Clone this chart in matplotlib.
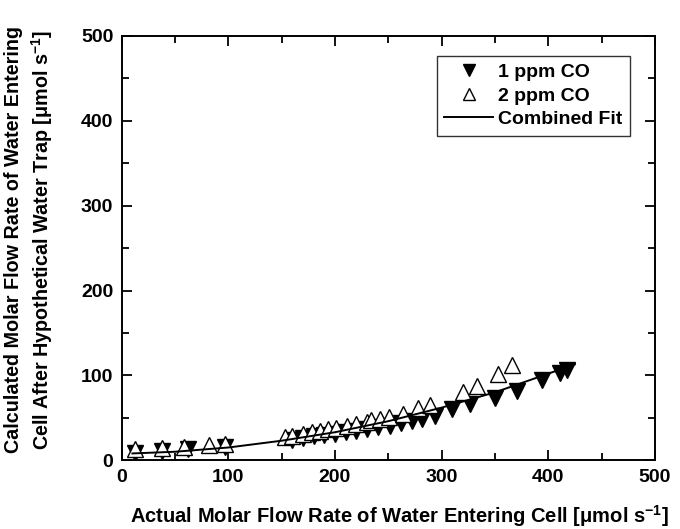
import matplotlib
matplotlib.use("Agg")
import matplotlib.pyplot as plt

plt.rcParams['font.family'] = ['Liberation Sans', 'DejaVu Sans']
plt.rcParams['font.weight'] = 'bold'
plt.rcParams['mathtext.fontset'] = 'custom'
plt.rcParams['mathtext.rm'] = 'Liberation Sans:bold'
plt.rcParams['mathtext.bf'] = 'Liberation Sans:bold'
plt.rcParams['mathtext.it'] = 'Liberation Sans:bold'

# 1 ppm CO (filled, down triangles)
x_1ppm = [12, 38, 62, 97, 160, 170, 180, 190, 200, 210, 220, 230, 240, 252,
          262, 272, 282, 294, 310, 327, 350, 371, 394, 411, 418]
y_1ppm = [9, 11, 13, 16, 24, 26, 28, 30, 31, 33, 35, 37, 39, 40,
          44, 46, 49, 52, 60, 66, 73, 82, 94, 103, 106]

# 2 ppm CO (open, up triangles)
x_2ppm = [12, 38, 58, 82, 97, 153, 160, 170, 178, 186, 193, 201, 211, 220,
          230, 234, 242, 251, 264, 278, 289, 320, 333, 353, 366]
y_2ppm = [13, 14, 16, 18, 19, 27, 29, 31, 33, 35, 37, 38, 40, 43,
          45, 47, 49, 51, 55, 61, 65, 80, 88, 102, 112]

# combined fit
x_fit = [10, 50, 100, 150, 200, 250, 300, 350, 400, 425]
y_fit = [8, 10, 15, 23, 33, 46, 62, 80, 102, 113]

fig = plt.figure(figsize=(6.8, 5.29), dpi=100)
ax = fig.add_axes([0.179, 0.130, 0.784, 0.802])

ax.plot(x_1ppm, y_1ppm, linestyle='none', marker='v', markersize=11,
        color='black', label='1 ppm CO')
ax.plot(x_2ppm, y_2ppm, linestyle='none', marker='^', markersize=11,
        markerfacecolor='white', markeredgecolor='black', markeredgewidth=1.0,
        label='2 ppm CO')
ax.plot(x_fit, y_fit, color='black', linewidth=1.4, label='Combined Fit')

ax.set_xlim(0, 500)
ax.set_ylim(0, 500)
ax.set_xticks([0, 100, 200, 300, 400, 500])
ax.set_yticks([0, 100, 200, 300, 400, 500])
ax.set_xticks([50, 150, 250, 350, 450], minor=True)
ax.set_yticks([50, 150, 250, 350, 450], minor=True)
ax.tick_params(which='both', direction='in', top=True, right=True, width=1.3)
ax.tick_params(which='major', length=7, labelsize=14, pad=6)
ax.tick_params(which='minor', length=5)
for lab in ax.get_xticklabels() + ax.get_yticklabels():
    lab.set_fontweight('bold')
for sp in ax.spines.values():
    sp.set_linewidth(1.4)

ax.set_xlabel(r'Actual Molar Flow Rate of Water Entering Cell [$\mu$mol s$^{-1}$]',
              fontsize=14.5, fontweight='bold')
ax.xaxis.set_label_coords(0.52, -0.10)
ax.set_ylabel('Calculated Molar Flow Rate of Water Entering\n'
              r'Cell After Hypothetical Water Trap [$\mu$mol s$^{-1}$]',
              fontsize=14.2, fontweight='bold', linespacing=1.3)
ax.yaxis.set_label_coords(-0.125, 0.52)

leg = ax.legend(loc='upper right', bbox_to_anchor=(0.953, 0.953),
                frameon=True, fancybox=False, edgecolor='black',
                handlelength=2.5, handletextpad=0.25, borderpad=0.4,
                borderaxespad=0, labelspacing=0.3, markerscale=0.85,
                prop={'weight': 'bold', 'size': 14})
leg.get_frame().set_linewidth(1.0)

fig.savefig('out.png', dpi=100)
